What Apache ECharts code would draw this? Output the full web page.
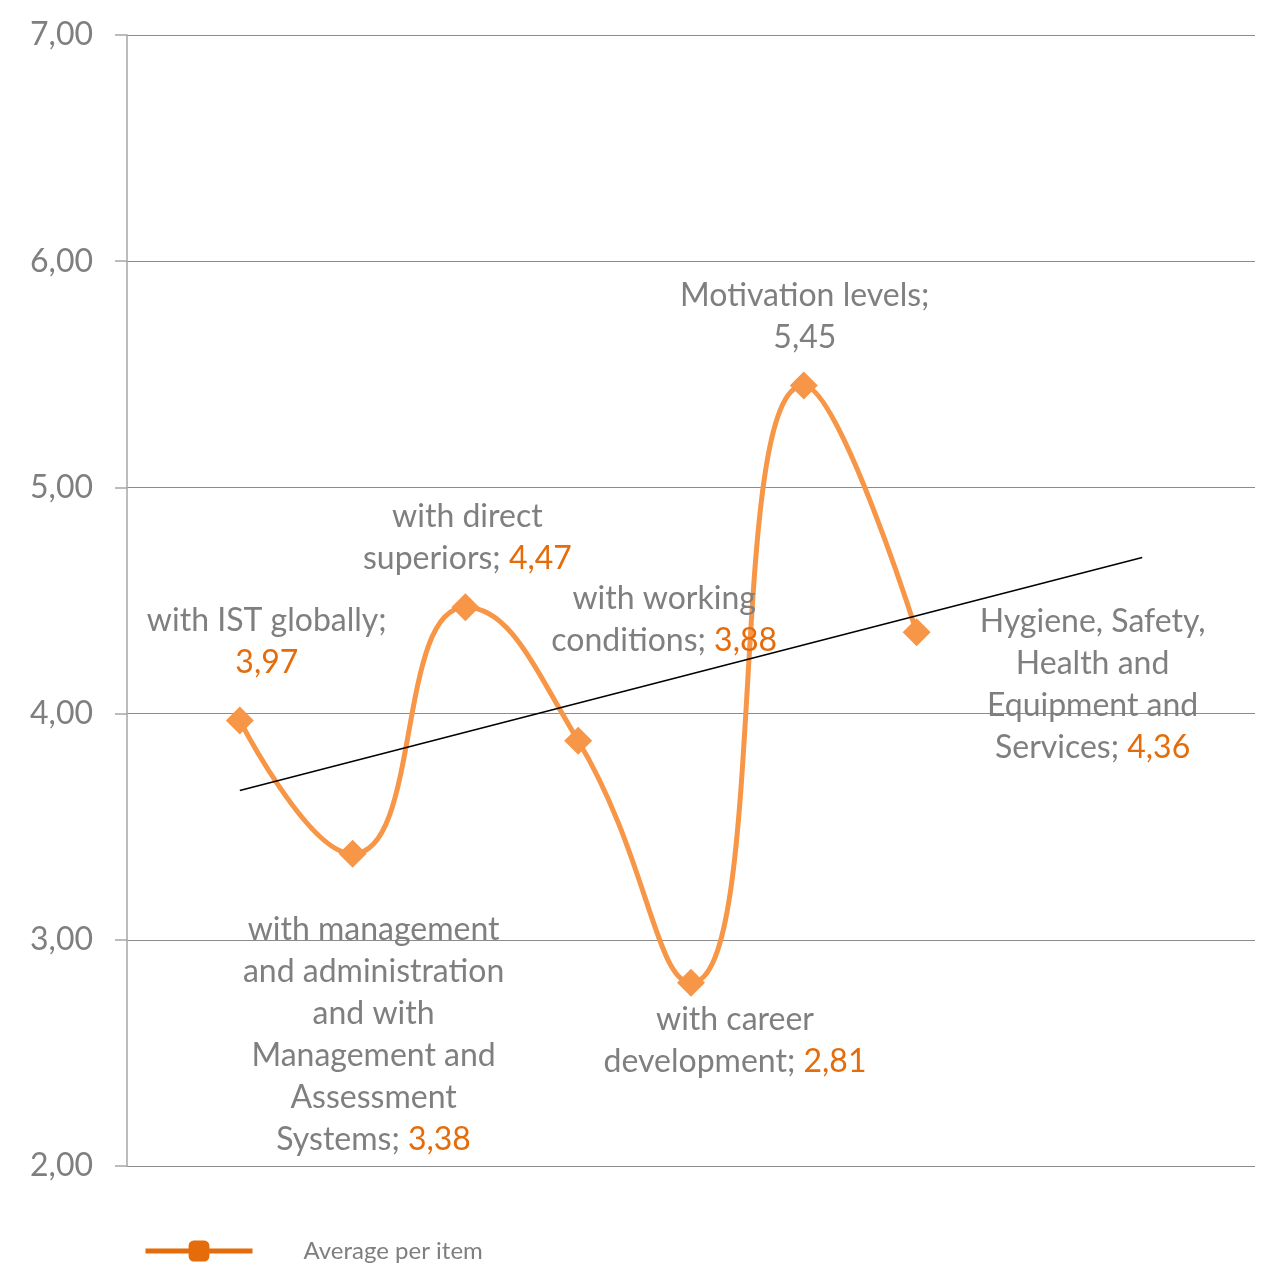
<!DOCTYPE html>
<html>
<head>
<meta charset="utf-8">
<script src="https://cdn.jsdelivr.net/npm/echarts@6/dist/echarts.min.js"></script>
<style>
  html, body { margin: 0; padding: 0; background: #fff; }
  #chart { width: 1268px; height: 1267px; }
</style>
</head>
<body>
<div id="chart"></div>
<script>
// slots on the x axis: empty slot, 7 items, 3 empty slots (trend runs forward 2 of them)
var slots = ['', 'a', 'b', 'c', 'd', 'e', 'f', 'g', '', '', ''];
var itemNames = [
    'with IST globally;',
    'with management\nand administration\nand with\nManagement and\nAssessment\nSystems;',
    'with direct\nsuperiors;',
    'with working\nconditions;',
    'with career\ndevelopment;',
    'Motivation levels;',
    'Hygiene, Safety,\nHealth and\nEquipment and\nServices;'
];
var itemValues = [3.97, 3.38, 4.47, 3.88, 2.81, 5.45, 4.36];
// linear trend, start / end (slot 1 and slot 9)
var trendPoints = [[1, 3.66], [9, 4.69]];
var yTicks = [2, 3, 4, 5, 6, 7];

var GRAY = '#7f7f7f';
var ORANGE = '#e46c0a';
var LINE = '#f79646';
var FONT = 'Lato';

// label placement per item
var labelPlace = [
    {position: 'top', offset: [27, -18], sep: '\n'},
    {position: 'bottom', offset: [21, 36], sep: ' '},
    {position: 'top', offset: [2, -9], sep: ' '},
    {position: 'top', offset: [86, -60], sep: ' '},
    {position: 'bottom', offset: [44, -3], sep: ' '},
    {position: 'top', offset: [1, -8], sep: '\n', valGray: true},
    {position: 'right', offset: [157, 53], sep: ' '}
];

function fmt(v) {
    return v.toFixed(2).replace('.', ',')
}

var seriesData = slots.map(function () { return null })
itemValues.forEach(function (v, i) {
    var p = labelPlace[i]
    var lines = itemNames[i].split('\n').map(function (t) { return '{n|' + t + '}' })
    var last = lines.length - 1
    var valTag = p.valGray ? 'n' : 'v'
    var text
    if (p.sep === '\n') {
        text = lines.join('\n') + '\n{' + valTag + '|' + fmt(v) + '}'
    } else {
        lines[last] = lines[last] + '{' + valTag + '| ' + fmt(v) + '}'
        text = lines.join('\n')
    }
    seriesData[i + 1] = {
        value: v,
        label: {
            show: true,
            position: p.position,
            offset: p.offset,
            distance: 5,
            align: 'center',
            formatter: text
        }
    }
})

var chart = echarts.init(document.getElementById('chart'))
var richStyle = {
    n: {color: GRAY, fontSize: 32, lineHeight: 42, fontFamily: FONT},
    v: {color: ORANGE, fontSize: 32, lineHeight: 42, fontFamily: FONT}
}

chart.setOption({
    animation: false,
    textStyle: {fontFamily: FONT},
    grid: {left: 127, right: 13, top: 35, bottom: 101, containLabel: false},
    legend: {
        left: 143,
        bottom: 4,
        padding: 0,
        itemWidth: 107,
        itemHeight: 26,
        data: [{
            name: 'Average per item',
            lineStyle: {color: ORANGE, width: 5}
        }],
        textStyle: {color: GRAY, fontSize: 24, fontFamily: FONT, padding: [0, 0, 0, 46]}
    },
    xAxis: {
        type: 'category',
        data: slots,
        boundaryGap: false,
        axisLine: {show: false},
        axisTick: {show: false},
        axisLabel: {show: false},
        splitLine: {show: false}
    },
    yAxis: {
        type: 'value',
        min: yTicks[0],
        max: yTicks[yTicks.length - 1],
        interval: 1,
        axisLine: {show: true, lineStyle: {color: '#a6a6a6', width: 1.5}},
        axisTick: {show: true, length: 12, lineStyle: {color: '#a6a6a6', width: 1.5}},
        axisLabel: {
            color: GRAY,
            fontSize: 32,
            fontFamily: FONT,
            margin: 34,
            formatter: function (v) { return fmt(v) }
        },
        splitLine: {show: true, lineStyle: {color: '#8c8c8c', width: 1}}
    },
    series: [
        {
            name: 'items',
            type: 'line',
            data: seriesData,
            smooth: 0.5,
            symbol: 'diamond',
            symbolSize: 28,
            z: 3,
            lineStyle: {color: LINE, width: 5},
            itemStyle: {color: LINE},
            label: {rich: richStyle}
        },
        {
            name: 'trend',
            type: 'line',
            data: trendPoints,
            symbol: 'none',
            z: 4,
            lineStyle: {color: '#000', width: 1.5}
        },
        {
            // legend only
            name: 'Average per item',
            type: 'line',
            data: [],
            symbol: 'roundRect',
            lineStyle: {color: ORANGE, width: 5},
            itemStyle: {color: ORANGE}
        }
    ]
})
</script>
</body>
</html>
